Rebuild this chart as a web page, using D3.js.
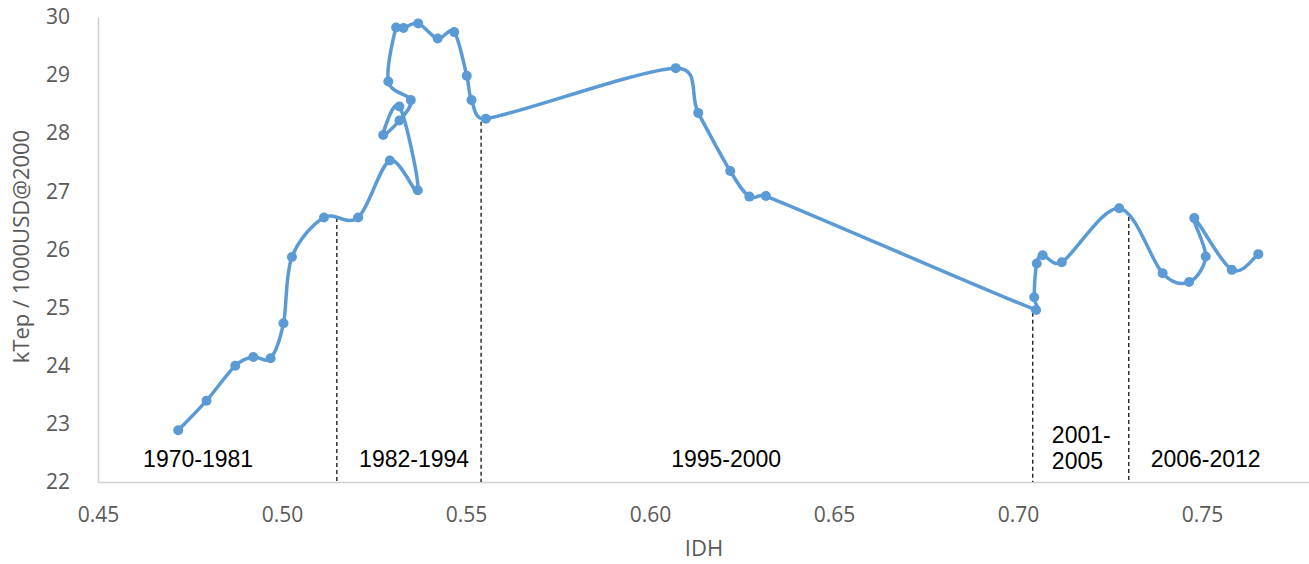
<!DOCTYPE html>
<html>
<head>
<meta charset="utf-8">
<script src="https://cdn.jsdelivr.net/npm/d3@7"></script>
<style>
  body { margin: 0; background: #fff; }
  svg { display: block; }
  .tick text { font-family: "Open Sans", sans-serif; font-size: 21px; fill: #595959; }
  .axis-title { font-family: "Open Sans", sans-serif; font-size: 22px; fill: #595959; }
  .period { font-family: "Liberation Sans", Arial, sans-serif; font-size: 23px; fill: #000; }
</style>
</head>
<body>
<svg id="chart" width="1309" height="564"></svg>
<script>
// IDH (x) vs energy intensity kTep / 1000USD@2000 (y), in series order
const idh = [
    0.4718, 0.4795, 0.4873, 0.4922, 0.4969, 0.5004, 0.5027, 0.5114,
    0.5207, 0.5293, 0.5369, 0.5319, 0.5275, 0.5319, 0.5350, 0.5289,
    0.5310, 0.5330, 0.5370, 0.5423, 0.5468, 0.5502, 0.5515, 0.5554,
    0.6070, 0.6131, 0.6218, 0.6270, 0.6315,
    0.7049, 0.7044, 0.7051, 0.7067, 0.7119, 0.7275,
    0.7393, 0.7465, 0.7510, 0.7479, 0.7581, 0.7653
];
const intensity = [
    22.89, 23.40, 24.00, 24.15, 24.13, 24.73, 25.87, 26.55,
    26.55, 27.53, 27.02, 28.46, 27.97, 28.22, 28.57, 28.89,
    29.82, 29.81, 29.89, 29.63, 29.74, 28.99, 28.57, 28.25,
    29.12, 28.35, 27.35, 26.91, 26.92,
    24.96, 25.18, 25.76, 25.90, 25.78, 26.71,
    25.59, 25.44, 25.88, 26.54, 25.65, 25.92
];

// period separators: IDH position and value where the dashed line meets the curve
const splitIdh = [0.5149, 0.5541, 0.7040, 0.7301];
const splitTop = [26.54, 28.20, 24.91, 26.56];

// period labels
const periodText = ["1970-1981", "1982-1994", "1995-2000", "2001-\n2005", "2006-2012"];
const periodIdh = [0.4772, 0.5359, 0.6207, 0.7092, 0.7510];
const periodAnchor = ["middle", "middle", "middle", "start", "middle"];

const xTicks = [0.45, 0.50, 0.55, 0.60, 0.65, 0.70, 0.75];
const yTicks = [22, 23, 24, 25, 26, 27, 28, 29, 30];

const svg = d3.select("#chart");

const x = d3.scaleLinear().domain([0.45, 0.80]).range([98, 1386]);
const y = d3.scaleLinear().domain([22, 30]).range([482, 17]);

// axes
const xAxis = svg.append("g")
    .attr("transform", `translate(0,${y(22)})`)
    .call(d3.axisBottom(x).tickValues(xTicks).tickFormat(d3.format(".2f")).tickSize(0).tickPadding(0));
xAxis.select(".domain").attr("stroke", "#d0d0d0").attr("stroke-width", 1.5);
xAxis.selectAll(".tick text").attr("dy", null).attr("y", 40);

const yAxis = svg.append("g")
    .attr("transform", `translate(${x(0.45)},0)`)
    .call(d3.axisLeft(y).tickValues(yTicks).tickSize(0).tickPadding(28));
yAxis.select(".domain").attr("stroke", "#d0d0d0").attr("stroke-width", 1.5);

svg.append("text")
    .attr("class", "axis-title")
    .attr("x", 704)
    .attr("y", 556)
    .attr("text-anchor", "middle")
    .text("IDH");

svg.append("text")
    .attr("class", "axis-title")
    .attr("transform", `translate(29,${(y(22) + y(30)) / 2 - 3}) rotate(-90)`)
    .attr("text-anchor", "middle")
    .text("kTep / 1000USD@2000");

// dashed separators
svg.append("g").selectAll("line")
    .data(splitIdh)
    .join("line")
    .attr("x1", d => x(d))
    .attr("x2", d => x(d))
    .attr("y1", (d, i) => y(splitTop[i]))
    .attr("y2", y(22))
    .attr("stroke", "#222")
    .attr("stroke-width", 1.4)
    .attr("stroke-dasharray", "4,3");

// series
const points = idh.map((v, i) => ({ x: v, y: intensity[i] }));

// spreadsheet-style smoothing: Catmull-Rom handles (1/6 of neighbour chord),
// shortened when a handle would be longer than half of its segment
function smoothPath(pts) {
    const p = pts.map(d => [x(d.x), y(d.y)]);
    const n = p.length;
    const tan = p.map((q, i) => {
        const a = p[Math.max(i - 1, 0)], b = p[Math.min(i + 1, n - 1)];
        return [(b[0] - a[0]) / 6, (b[1] - a[1]) / 6];
    });
    const clamp = (t, len) => {
        const m = Math.hypot(t[0], t[1]), lim = len * 0.5;
        return m > lim && m > 0 ? [t[0] * lim / m, t[1] * lim / m] : t;
    };
    const path = d3.path();
    path.moveTo(p[0][0], p[0][1]);
    for (let i = 0; i < n - 1; i++) {
        const a = p[i], b = p[i + 1];
        const len = Math.hypot(b[0] - a[0], b[1] - a[1]);
        const t1 = clamp(tan[i], len), t2 = clamp(tan[i + 1], len);
        path.bezierCurveTo(a[0] + t1[0], a[1] + t1[1], b[0] - t2[0], b[1] - t2[1], b[0], b[1]);
    }
    return path.toString();
}

svg.append("path")
    .attr("d", smoothPath(points))
    .attr("fill", "none")
    .attr("stroke", "#5b9bd5")
    .attr("stroke-width", 3.5)
    .attr("stroke-linejoin", "round");

svg.append("g").selectAll("circle")
    .data(points)
    .join("circle")
    .attr("cx", d => x(d.x))
    .attr("cy", d => y(d.y))
    .attr("r", 5)
    .attr("fill", "#5b9bd5");

// period labels
const labels = svg.append("g");
periodText.forEach((t, i) => {
    const lines = t.split("\n");
    const txt = labels.append("text")
        .attr("class", "period")
        .attr("text-anchor", periodAnchor[i]);
    const base = lines.length > 1 ? 443 : 467;
    lines.forEach((s, j) => {
        txt.append("tspan")
            .attr("x", x(periodIdh[i]))
            .attr("y", base + j * 26)
            .text(s);
    });
});
</script>
</body>
</html>
